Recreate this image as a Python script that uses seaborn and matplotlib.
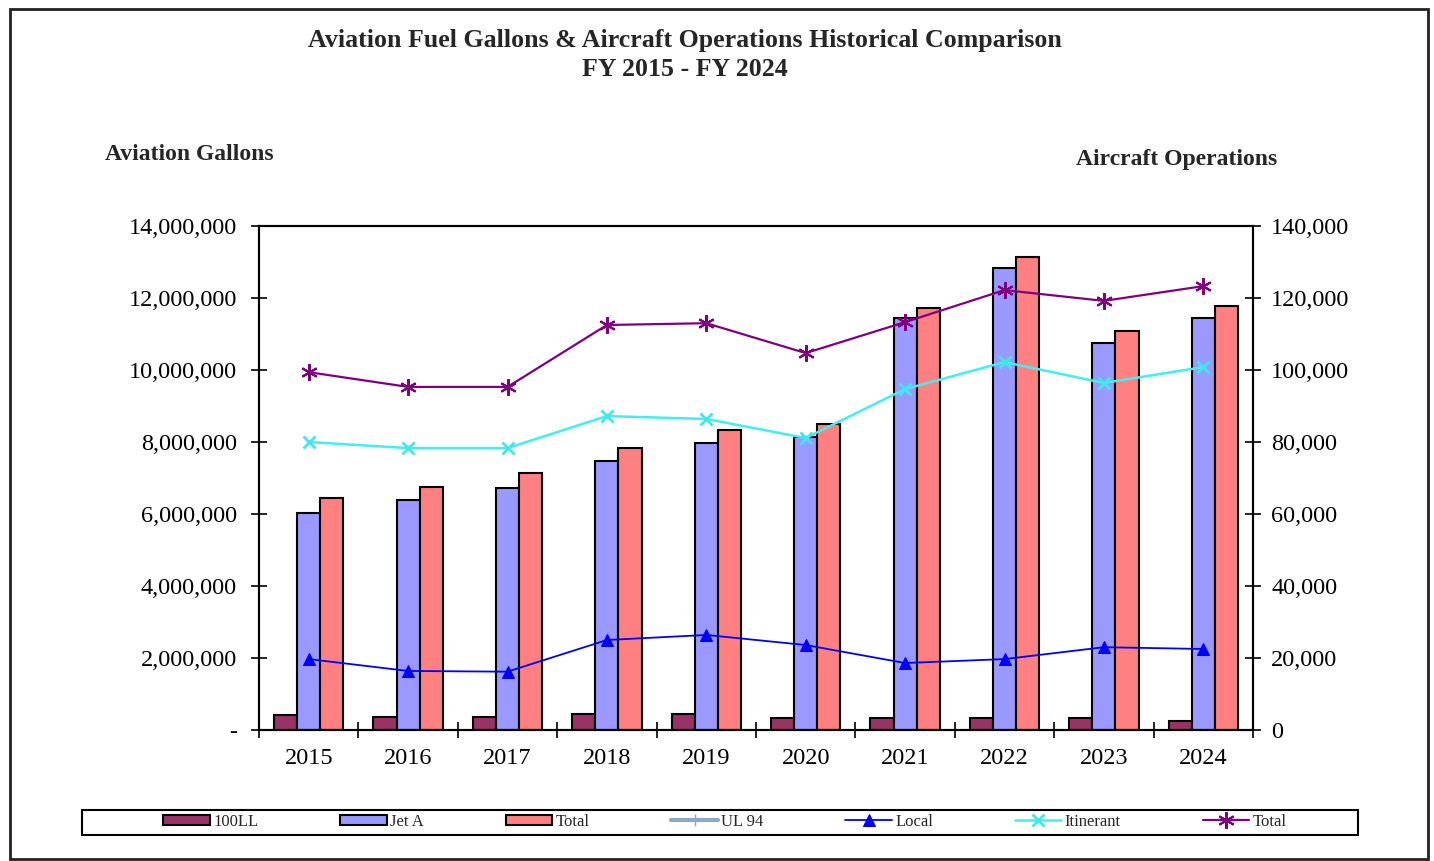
import matplotlib
matplotlib.use("Agg")
import matplotlib.pyplot as plt
import matplotlib.ticker as mticker
from matplotlib.patches import Rectangle
import numpy as np
import pandas as pd
import seaborn as sns

# данные
years = ['2015', '2016', '2017', '2018', '2019', '2020', '2021', '2022', '2023', '2024']
gal_100ll = [430000, 370000, 365000, 440000, 440000, 335000, 335000, 335000, 330000, 255000]
gal_jeta = [6030000, 6390000, 6720000, 7470000, 7970000, 8140000, 11440000, 12830000, 10750000, 11440000]
gal_total = [6440000, 6750000, 7140000, 7830000, 8330000, 8500000, 11720000, 13140000, 11080000, 11780000]

ops_ul94 = [np.nan] * 10   # в легенде есть, на графике линии нет
ops_local = [19700, 16400, 16200, 25000, 26400, 23600, 18600, 19700, 23000, 22500]
ops_itin = [80000, 78300, 78300, 87200, 86400, 81100, 94700, 102200, 96400, 100800]
ops_total = [99400, 95300, 95300, 112500, 113000, 104700, 113300, 122200, 119200, 123300]

bar_names = ['100LL', 'Jet A', 'Total']
bar_colors = ['#993366', '#9999FF', '#FF8080']

sns.set_theme(style='white')
plt.rcParams['font.family'] = ['Liberation Serif', 'DejaVu Serif']

fuel = pd.DataFrame({
    'year': years * 3,
    'gallons': gal_100ll + gal_jeta + gal_total,
    'fuel': sum([[n] * len(years) for n in bar_names], []),
})

fig = plt.figure(figsize=(14.34, 8.61), dpi=100)
ax = fig.add_axes([259 / 1434, 1 - 730 / 861, (1253 - 259) / 1434, (730 - 226) / 861])

sns.barplot(data=fuel, x='year', y='gallons', hue='fuel', palette=bar_colors,
            width=0.7, gap=0, edgecolor='black', linewidth=1.5, saturation=1, ax=ax)
bar_handles, bar_labels = ax.get_legend_handles_labels()
ax.get_legend().remove()

ax.set_ylim(0, 14000000)
ax.set_xlim(-0.5, len(years) - 0.5)
ax.yaxis.set_major_locator(mticker.MultipleLocator(2000000))
ax.yaxis.set_major_formatter(mticker.FuncFormatter(lambda v, p: '-' if v == 0 else f'{v:,.0f}'))
ax.set_xlabel('')
ax.set_ylabel('')

# линии операций по правой оси
ax2 = ax.twinx()
pos = np.arange(len(years))
ax2.plot(pos, ops_ul94, color='#8EA9C8', lw=3, marker='+', ms=9, label='UL 94')
sns.lineplot(x=pos, y=ops_local, ax=ax2, color='#0000FF', lw=1.3, marker='^', ms=9,
             markeredgecolor='#0000FF', label='Local')
sns.lineplot(x=pos, y=ops_itin, ax=ax2, color='#40F0F0', lw=1.8, marker='x', ms=9,
             markeredgewidth=2, markeredgecolor='#40E8E8', label='Itinerant')
sns.lineplot(x=pos, y=ops_total, ax=ax2, color='#800080', lw=1.6, marker=(6, 2, 0), ms=12,
             markeredgewidth=1.5, markeredgecolor='#800080', label='Total')
line_handles, line_labels = ax2.get_legend_handles_labels()
ax2.get_legend().remove()
ax2.set_ylim(0, 140000)
ax2.yaxis.set_major_locator(mticker.MultipleLocator(20000))
ax2.yaxis.set_major_formatter(mticker.FuncFormatter(lambda v, p: f'{v:,.0f}'))
ax2.set_ylabel('')

for a in (ax, ax2):
    for s in a.spines.values():
        s.set_color('black')
        s.set_linewidth(1.5)
    a.grid(False)

ax.tick_params(axis='y', direction='inout', length=12, width=1.2, colors='black',
               labelsize=17.5, pad=10, left=True)
ax2.tick_params(axis='y', direction='inout', length=12, width=1.2, colors='black',
                labelsize=17.5, pad=7, right=True)
ax.set_xticks(pos)
ax.set_xticks(np.arange(-0.5, len(years)), minor=True)
ax.tick_params(axis='x', which='major', length=0, labelsize=17.5, pad=13, labelcolor='black')
ax.tick_params(axis='x', which='minor', direction='inout', length=12, width=1.2,
               color='black', bottom=True)

# заголовки
fig.text(685 / 1434, 1 - 40 / 861, 'Aviation Fuel Gallons & Aircraft Operations Historical Comparison',
         ha='center', va='center', fontsize=18.6, fontweight='bold')
fig.text(685 / 1434, 1 - 69 / 861, 'FY 2015 - FY 2024', ha='center', va='center',
         fontsize=18.6, fontweight='bold')
fig.text(105 / 1434, 1 - 155 / 861, 'Aviation Gallons', ha='left', va='center',
         fontsize=17, fontweight='bold')
fig.text(1277 / 1434, 1 - 159 / 861, 'Aircraft Operations', ha='right', va='center',
         fontsize=17, fontweight='bold')

# легенда внизу в рамке
fig.patches.append(Rectangle((82 / 1434, 1 - 835 / 861), (1358 - 82) / 1434, 25 / 861,
                             transform=fig.transFigure, fill=False, edgecolor='black', lw=1.5))
fig.legend(bar_handles + line_handles, bar_labels + line_labels, ncol=7,
           loc='center', bbox_to_anchor=(725 / 1434, 1 - 822 / 861), frameon=False,
           fontsize=12, handlelength=2.8, handleheight=0.6, columnspacing=4.9,
           handletextpad=0.2)

# рамка вокруг всей картинки
fig.patches.append(Rectangle((10 / 1434, 2 / 861), 1418 / 1434, 850 / 861,
                             transform=fig.transFigure, fill=False, edgecolor='#222222', lw=2))

fig.savefig('out.png', dpi=100)
